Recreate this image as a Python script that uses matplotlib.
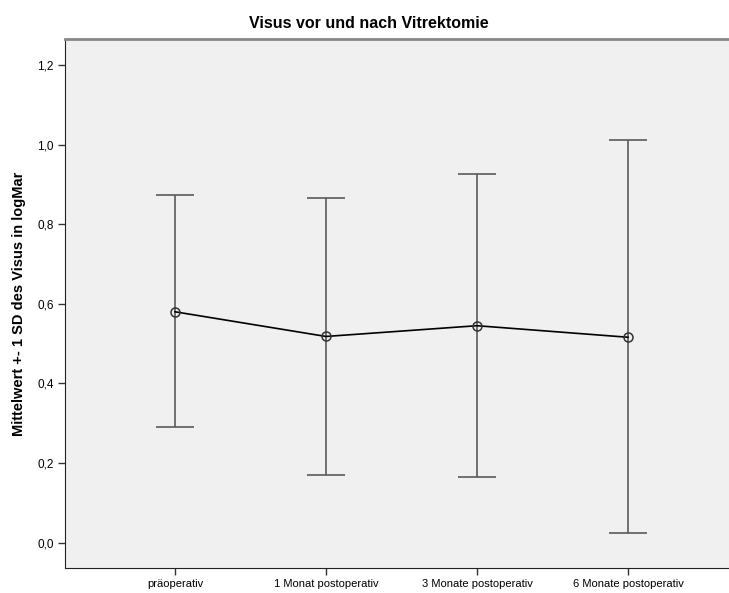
# Visus vor und nach Vitrektomie - Mittelwert +- 1 SD

import matplotlib
matplotlib.use("Agg")
import matplotlib.pyplot as plt
import numpy as np

# Data
categories = ["präoperativ", "1 Monat postoperativ", "3 Monate postoperativ", "6 Monate postoperativ"]
means = [0.580, 0.518, 0.545, 0.516]
upper = [0.874, 0.865, 0.925, 1.011]
lower = [0.290, 0.170, 0.166, 0.024]

yticks = [0.0, 0.2, 0.4, 0.6, 0.8, 1.0, 1.2]

plt.rcParams["font.family"] = ["Liberation Sans", "DejaVu Sans"]

fig = plt.figure(figsize=(7.29, 5.93), dpi=100)
# Axes runs past the right edge like in the SPSS export
ax = fig.add_axes([0.0892, 0.0422, 0.923, 0.8912])
ax.set_facecolor("#f0f0f0")

x = np.arange(len(categories))
err_low = np.array(means) - np.array(lower)
err_high = np.array(upper) - np.array(means)

# Error bars
ax.errorbar(x, means, yerr=[err_low, err_high], fmt="none",
            ecolor="#5a5a5a", elinewidth=1.2, capsize=13.7, capthick=1.2, zorder=2)

# Mean line with open circles
ax.plot(x, means, color="black", linewidth=1.2, zorder=3)
ax.plot(x, means, linestyle="none", marker="o", markersize=6.5,
        markerfacecolor="none", markeredgecolor="#333333", markeredgewidth=1.1, zorder=4)

ax.set_xlim(-0.728, 3.728)
ax.set_ylim(-0.0636, 1.264)

ax.set_xticks(x)
ax.set_xticklabels(categories, fontsize=8)
ax.set_yticks(yticks)
ax.set_yticklabels([("%.1f" % v).replace(".", ",") for v in yticks], fontsize=8.5)
ax.tick_params(axis="both", length=5, width=1, color="#333333", pad=3)

# Borders
ax.spines["right"].set_visible(False)
ax.spines["top"].set_color("#888888")
ax.spines["top"].set_linewidth(2)
ax.spines["left"].set_color("#222222")
ax.spines["bottom"].set_color("#222222")

ax.set_ylabel("Mittelwert +- 1 SD des Visus in logMar", fontsize=10.5, fontweight="bold", labelpad=8)
# Title centred on the visible picture, not on the (cropped) axes
ax.set_title("Visus vor und nach Vitrektomie", fontsize=11.5, fontweight="bold", pad=8, x=0.452)

fig.savefig("out.png", dpi=100)
